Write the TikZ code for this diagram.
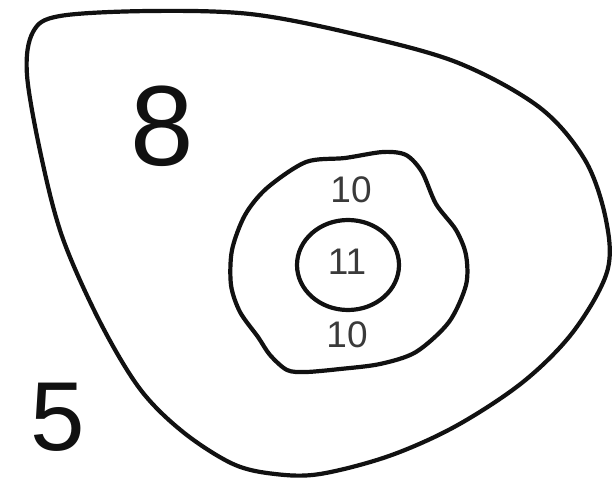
\documentclass[tikz,border=0pt]{standalone}
\usepackage{fontspec}
\setmainfont{Liberation Sans}
\usetikzlibrary{positioning}
\definecolor{Ink}{HTML}{111111}
\definecolor{Gray}{HTML}{3A3A3A}

\begin{document}
\begin{tikzpicture}[
  x=1pt,y=-1pt,
  contour/.style={draw=Ink,line width=4.2pt,line join=round},
  bignum/.style={inner sep=0pt,text=Ink,font=\fontsize{114}{114}\selectfont},
  midnum/.style={inner sep=0pt,text=Ink,font=\fontsize{98}{98}\selectfont},
  smallnum/.style={inner sep=0pt,text=Gray,font=\fontsize{37}{37}\selectfont}
]
\useasboundingbox (0,0) rectangle (612,478);
% outer contour
\draw[contour] plot[smooth cycle,tension=0.55] coordinates {
  (60,16) (150,11) (250,14) (350,33) (456,62) (539,107) (585,160)
  (606,220) (607,272) (573,332) (523,382) (456,426) (389,456)
  (320,474) (275,474) (233,464) (183,432) (140,389) (100,322)
  (63,239) (42,160) (27,75) (33,32)};
% inner contour
\draw[contour] plot[smooth cycle,tension=0.5] coordinates {
  (306,162) (345,158) (383,152) (406,155) (422,172) (436,204)
  (456,230) (466,255) (466,285) (449,322) (416,352) (380,364)
  (340,369) (306,372) (287,370) (270,355) (258,337) (240,312)
  (231,285) (232,250) (245,215) (267,188)};
% core
\draw[contour] (348,265) ellipse [x radius=51,y radius=45];
\node[bignum] (n8) at (162,126) {8};
\node[midnum] (n5) at (58,417) {5};
\node[smallnum] (n11) at (347,262) {11};
\node[smallnum] (n10a) at (351,190) {10};
\node[smallnum] (n10b) at (347,335) {10};
\end{tikzpicture}
\end{document}
